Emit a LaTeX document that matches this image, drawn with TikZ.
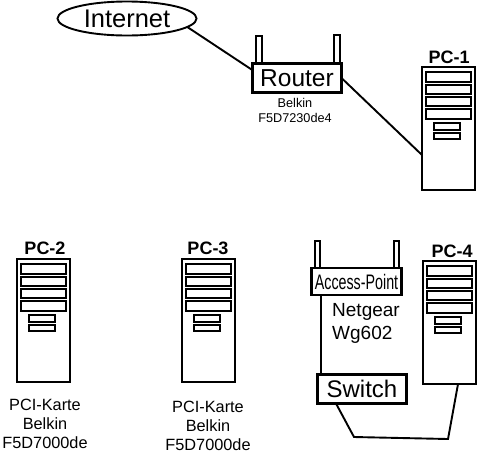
\documentclass[tikz,border=0pt]{standalone}
\usepackage{fontspec}
\usetikzlibrary{shapes.geometric}
\setmainfont{Liberation Sans}
\tikzset{
  wire/.style={line width=1.9pt},
  netbox/.style={draw, line width=2.3pt, fill=white, inner sep=0pt, outer sep=0pt},
  antenna/.style={draw, line width=1.8pt, fill=white},
  bay/.style={draw, line width=2.2pt, fill=white},
  tower/.style={draw, line width=2.3pt, fill=white, inner sep=0pt, outer sep=0pt,
                anchor=north west, minimum width=53pt, minimum height=123pt},
  pclabel/.style={font=\fontsize{18}{20}\selectfont\bfseries, inner sep=0pt},
  note/.style={align=center, inner sep=0pt}
}
% #1 name, #2 left, #3 top, #4 label position, #5 label
\newcommand{\pctower}[5]{
  \node[tower] (#1) at (#2,#3) {};
  \foreach \ya/\yb in {5/15, 18/27, 30/39, 42/52}
    \draw[bay] (#2+4,#3+\ya) rectangle (#2+49,#3+\yb);
  \foreach \ya/\yb in {56/63, 66/72}
    \draw[bay] (#2+12,#3+\ya) rectangle (#2+38,#3+\yb);
  \node[pclabel] (#1label) at #4 {#5};
}

\begin{document}
\begin{tikzpicture}[x=1pt, y=-1pt]
  \useasboundingbox[fill=white] (0,0) rectangle (478,453);

  \node[draw, ellipse, line width=1.9pt, inner sep=0pt, outer sep=0pt, minimum width=139pt, minimum height=34pt,
        font=\fontsize{25.5}{25}\selectfont] (internet) at (127,18.5) {Internet};

  % router
  \draw[antenna] (256,36) rectangle (262,63);
  \draw[antenna] (334,35) rectangle (340,63);
  \node[netbox, minimum width=89pt, minimum height=29pt, font=\fontsize{24.5}{25}\selectfont] (router) at (297,78) {Router};
  \node[note, font=\fontsize{12.7}{15}\selectfont] (routernote) at (295,110.5) {Belkin\\F5D7230de4};

  \pctower{pc1}{422}{67}{(449,57)}{PC-1}
  \pctower{pc2}{17}{259}{(45,248)}{PC-2}
  \pctower{pc3}{182}{259}{(208,248)}{PC-3}
  \pctower{pc4}{423}{261}{(452,251)}{PC-4}

  \draw[wire] (internet.-8) -- (router.170);
  \draw[wire] (router.east) -- (pc1.225);

  \node[note, font=\fontsize{16.3}{19}\selectfont] (pc2note) at (45,424) {PCI-Karte\\Belkin\\F5D7000de};
  \node[note, font=\fontsize{16.3}{19}\selectfont] (pc3note) at (208,426) {PCI-Karte\\Belkin\\F5D7000de};

  % access point with switch
  \draw[antenna] (315,241) rectangle (320,268);
  \draw[antenna] (394,241) rectangle (399,268);
  \node[netbox, minimum width=90pt, minimum height=27pt, font=\fontsize{21}{21}\selectfont] (ap) at (356.5,281.5) {\scalebox{0.68}[1]{Access-Point}};
  \node[netbox, minimum width=89pt, minimum height=29pt, font=\fontsize{24}{24}\selectfont] (switch) at (362,389) {Switch};
  \node[note, align=left, font=\fontsize{19}{23}\selectfont] (apnote) at (366,323.5) {Netgear\\Wg602};

  \coordinate (dropA) at (321,0);
  \coordinate (dropB) at (336,0);
  \coordinate (dropC) at (458,0);
  \coordinate (bendA) at (354,437);
  \coordinate (bendB) at (448,439);
  \draw[wire] (ap.south -| dropA) -- (switch.north -| dropA);
  \draw[wire] (switch.south -| dropB) -- (bendA) -- (bendB) -- (pc4.south -| dropC);
\end{tikzpicture}
\end{document}
